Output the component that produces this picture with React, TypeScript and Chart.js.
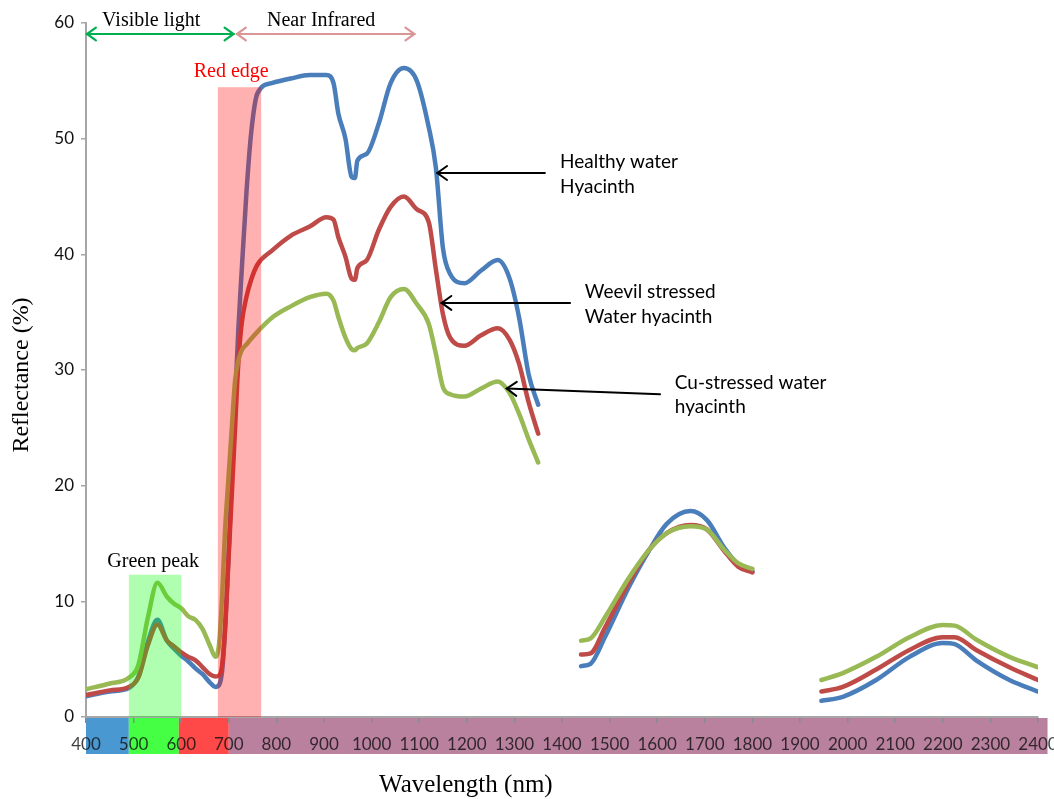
import React, { useEffect, useRef } from 'react';
import { Chart, registerables } from 'chart.js';
Chart.register(...registerables);

// Wavelength (nm) sample positions; null rows mark the water-absorption gaps
const wavelengths = [
  400, 450, 490, 510, 530, 550, 570, 585, 600, 615, 630, 645, 660, 672, 680, 686, 692, 699, 706, 713,
  720, 727, 737, 747, 760, 790, 830, 870, 905, 920, 930, 945, 958, 965, 970, 990, 1015, 1040, 1068, 1095,
  1120, 1135, 1150, 1165, 1195, 1230, 1265, 1290, 1310, 1330, 1350, 1400, 1440, 1460, 1490, 1540, 1580, 1620,
  1670, 1705, 1740, 1770, 1800, 1875, 1945, 1990, 2060, 2130, 2200, 2225, 2270, 2340, 2400,
];

const healthy = [
  1.8, 2.2, 2.5, 3.5, 6.5, 8.4, 6.6, 5.9, 5.3, 4.8, 4.2, 3.7, 3.0, 2.6, 2.8, 4.0, 7.5, 13.5, 20.5, 27,
  33.5, 38.5, 45.3, 50.5, 53.9, 54.8, 55.2, 55.5, 55.5, 54.8, 52.2, 50.0, 46.7, 46.6, 48.1, 48.7, 51.3, 54.8, 56.1, 55.0,
  51.0, 47.5, 40.5, 38.3, 37.5, 38.6, 39.5, 37.9, 34.5, 29.6, 27.0, null, 4.4, 4.6, 6.9, 11.2, 14.2, 16.7,
  17.8, 17.0, 14.7, 13.2, 12.6, null, 1.4, 1.75, 3.2, 5.2, 6.4, 6.3, 4.9, 3.2, 2.2,
];

const weevil = [
  1.9, 2.3, 2.6, 3.4, 6.2, 8.0, 6.6, 6.1, 5.6, 5.2, 4.9, 4.3, 3.7, 3.5, 3.6, 4.5, 7.5, 13.3, 19.0, 24.8,
  30.6, 34.0, 36.3, 37.8, 39.1, 40.3, 41.6, 42.4, 43.2, 43.0, 41.5, 39.8, 37.9, 37.8, 38.8, 39.5, 42.1, 44.1, 45.0, 43.9,
  42.8, 38.7, 34.8, 32.8, 32.1, 33.0, 33.6, 32.6, 30.5, 27.2, 24.5, null, 5.4, 5.5, 7.7, 11.6, 14.3, 15.9,
  16.6, 16.2, 14.4, 13.0, 12.5, null, 2.2, 2.6, 4.1, 5.8, 6.9, 6.9, 5.8, 4.3, 3.2,
];

const copper = [
  2.4, 2.9, 3.4, 4.5, 8.6, 11.6, 10.4, 9.8, 9.4, 8.7, 8.4, 7.6, 6.2, 5.2, 6.5, 10.5, 16.0, 20.5, 24.8, 29.0,
  30.8, 31.7, 32.2, 32.7, 33.3, 34.5, 35.5, 36.3, 36.6, 36.0, 34.6, 32.8, 31.8, 31.7, 31.9, 32.3, 34.1, 36.3, 37.0, 35.7,
  34.0, 31.4, 28.5, 27.9, 27.7, 28.4, 29.0, 28.0, 26.2, 24.0, 22.0, null, 6.6, 6.8, 8.6, 12.0, 14.3, 15.9,
  16.5, 16.2, 14.5, 13.3, 12.8, null, 3.2, 3.8, 5.2, 6.9, 7.95, 7.9, 6.7, 5.2, 4.3,
];

const seriesNames = ['Healthy water Hyacinth', 'Weevil stressed Water hyacinth', 'Cu-stressed water hyacinth'];
const seriesColors = ['#4a7ebb', '#be4b48', '#98b954'];

// spectrum colour strip under the x axis
const bandEdges = [400, 490, 595, 700, 2420];
const bandColors = ['#4a98d2', '#44ff44', '#ff4848', '#b9819e'];

// highlighted regions: [fromWl, toWl, topReflectance]
const greenPeakBox = [490, 600, 12.3];
const redEdgeBox = [677, 768, 54.45];

const xTickStep = 100;
const yTickStep = 10;

const SERIF = "'Liberation Serif', 'DejaVu Serif', serif";
const SANS = "Lato, 'Liberation Sans', sans-serif";

function arrowHead(ctx: CanvasRenderingContext2D, x: number, y: number, angle: number, len: number, spread: number) {
  ctx.beginPath();
  ctx.moveTo(x + len * Math.cos(angle + spread), y + len * Math.sin(angle + spread));
  ctx.lineTo(x, y);
  ctx.lineTo(x + len * Math.cos(angle - spread), y + len * Math.sin(angle - spread));
  ctx.stroke();
}

function arrow(ctx: CanvasRenderingContext2D, x1: number, y1: number, x2: number, y2: number, color: string, width: number, both: boolean, len = 11) {
  ctx.save();
  ctx.strokeStyle = color;
  ctx.lineWidth = width;
  ctx.lineCap = 'round';
  ctx.lineJoin = 'miter';
  ctx.beginPath();
  ctx.moveTo(x1, y1);
  ctx.lineTo(x2, y2);
  ctx.stroke();
  const a = Math.atan2(y1 - y2, x1 - x2);
  arrowHead(ctx, x2, y2, a, len, 0.62);
  if (both) arrowHead(ctx, x1, y1, a + Math.PI, len, 0.62);
  ctx.restore();
}

const decorPlugin = {
  id: 'decor',
  beforeDraw(chart: any) {
    const { ctx, chartArea, scales } = chart;
    const x = scales.x;
    ctx.save();
    for (let i = 0; i < bandColors.length; i++) {
      const x0 = x.getPixelForValue(bandEdges[i]);
      const x1 = x.getPixelForValue(bandEdges[i + 1]);
      ctx.fillStyle = bandColors[i];
      ctx.fillRect(x0, chartArea.bottom + 1, x1 - x0, 36);
    }
    ctx.restore();
  },
  afterDatasetsDraw(chart: any) {
    const { ctx, scales } = chart;
    const x = scales.x;
    const y = scales.y;
    ctx.save();
    const boxes: [number[], string][] = [
      [greenPeakBox, 'rgba(0,255,0,0.31)'],
      [redEdgeBox, 'rgba(255,0,0,0.31)'],
    ];
    boxes.forEach(([b, c]) => {
      const x0 = x.getPixelForValue(b[0]);
      const x1 = x.getPixelForValue(b[1]);
      const y0 = y.getPixelForValue(b[2]);
      const y1 = y.getPixelForValue(0);
      ctx.fillStyle = c;
      ctx.fillRect(x0, y0, x1 - x0, y1 - y0);
    });
    ctx.restore();
  },
  afterDraw(chart: any) {
    const { ctx, chartArea, scales } = chart;
    const x = scales.x;
    const y = scales.y;
    const px = (v: number) => x.getPixelForValue(v);
    const py = (v: number) => y.getPixelForValue(v);
    ctx.save();

    // region labels (serif)
    ctx.textAlign = 'center';
    ctx.textBaseline = 'alphabetic';
    ctx.font = `20px ${SERIF}`;
    ctx.fillStyle = '#000';
    ctx.fillText('Visible light', px(537), py(59.75));
    ctx.fillText('Near Infrared', px(894), py(59.75));
    ctx.fillText('Green peak', px(541), py(12.97));
    ctx.fillStyle = '#ff0000';
    ctx.fillText('Red edge', px(705), py(55.3));

    // region arrows
    arrow(ctx, px(402), py(59.05), px(710), py(59.05), '#00b050', 2.2, true, 11);
    arrow(ctx, px(717), py(59.05), px(1090), py(59.05), '#d99694', 2.2, true, 11);

    // series annotations
    ctx.textAlign = 'left';
    ctx.fillStyle = '#000';
    ctx.font = `19px ${SANS}`;
    ctx.fillText('Healthy water', px(1396), py(47.46));
    ctx.fillText('Hyacinth', px(1396), py(45.3));
    ctx.fillText('Weevil stressed', px(1448), py(36.2));
    ctx.fillText('Water hyacinth', px(1448), py(34.05));
    ctx.fillText('Cu-stressed water', px(1637), py(28.4));
    ctx.fillText('hyacinth', px(1637), py(26.3));
    arrow(ctx, px(1364), py(47.03), px(1138), py(47.03), '#000', 2, false, 12);
    arrow(ctx, px(1417), py(35.8), px(1147), py(35.8), '#000', 2, false, 12);
    arrow(ctx, px(1606), py(27.9), px(1284), py(28.4), '#000', 2, false, 12);

    // axis titles
    ctx.font = `25px ${SERIF}`;
    ctx.textAlign = 'center';
    ctx.textBaseline = 'middle';
    ctx.fillText('Wavelength (nm)', px(1198), chartArea.bottom + 68);
    ctx.font = `24px ${SERIF}`;
    ctx.translate(22, 375);
    ctx.rotate(-Math.PI / 2);
    ctx.fillText('Reflectance (%)', 0, 0);
    ctx.restore();
  },
};

export default function App() {
  const ref = useRef<HTMLCanvasElement>(null);
  useEffect(() => {
    document.body.style.margin = '0';
    const series = [healthy, weevil, copper];
    const datasets = series.map((vals, i) => ({
      label: seriesNames[i],
      data: wavelengths.map((w, j) => ({ x: w, y: vals[j] })),
      borderColor: seriesColors[i],
      backgroundColor: seriesColors[i],
      borderWidth: 4.5,
      pointRadius: 0,
      cubicInterpolationMode: 'monotone' as const,
      borderCapStyle: 'round' as const,
      borderJoinStyle: 'round' as const,
      spanGaps: false,
      order: 2 - i,
    }));
    const chart = new Chart(ref.current!, {
      type: 'line',
      data: { datasets },
      options: {
        animation: false,
        responsive: false,
        layout: { padding: { left: 0, top: 23, right: 16, bottom: 0 } },
        plugins: { legend: { display: false }, tooltip: { enabled: false } },
        scales: {
          x: {
            type: 'linear',
            min: 400,
            max: 2400,
            ticks: {
              stepSize: xTickStep,
              autoSkip: false,
              maxRotation: 0,
              padding: 11,
              color: 'rgba(15,15,15,0.8)',
              font: { family: SANS, size: 17 },
              callback: (v: any) => String(v),
            },
            grid: { drawOnChartArea: false, tickLength: 6, color: '#8a8a8a', lineWidth: 1.5 },
            border: { color: '#a6a6a6', width: 2 },
            afterFit: (s: any) => { s.height = 82; s.paddingLeft = 0; s.paddingRight = 0; },
          },
          y: {
            min: 0,
            max: 60,
            ticks: {
              stepSize: yTickStep,
              padding: 7,
              color: '#111',
              font: { family: SANS, size: 17 },
            },
            grid: { drawOnChartArea: false, tickLength: 5, color: '#a6a6a6', lineWidth: 1.5 },
            border: { color: '#a6a6a6', width: 2 },
            afterFit: (s: any) => { s.width = 86; s.paddingTop = 0; s.paddingBottom = 0; },
          },
        },
      },
      plugins: [decorPlugin],
    });
    return () => chart.destroy();
  }, []);
  return (
    <div style={{ width: 1054, height: 799 }}>
      <canvas ref={ref} width={1054} height={799} style={{ display: 'block' }} />
    </div>
  );
}
